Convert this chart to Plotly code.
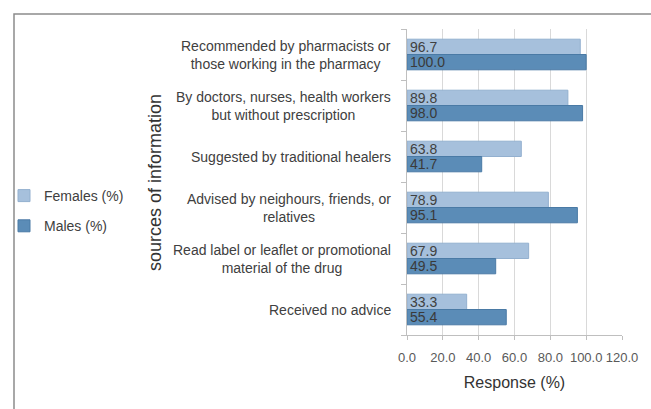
import plotly.graph_objects as go

categories = [
    "Recommended by pharmacists or<br>those working in the pharmacy",
    "By doctors, nurses, health workers<br>but without prescription",
    "Suggested by traditional healers",
    "Advised by neighours, friends, or<br>relatives",
    "Read label or leaflet or promotional<br>material of the drug",
    "Received no advice",
]
females = [96.7, 89.8, 63.8, 78.9, 67.9, 33.3]
males = [100.0, 98.0, 41.7, 95.1, 49.5, 55.4]
x_ticks = [0, 20, 40, 60, 80, 100, 120]
x_ticklabels = ["0.0", "20.0", "40.0", "60.0", "80.0", "100.0", "120.0"]

ypos = list(range(len(categories)))
FONT = "Liberation Sans, Arial"

fig = go.Figure()
fig.add_trace(go.Bar(
    name="Females (%)", y=ypos, x=females, orientation="h",
    marker=dict(color="#a6c0dc", line=dict(color="#93b0cf", width=1)),
    text=[f"{v:.1f}" for v in females], textposition="inside",
    insidetextanchor="start", constraintext="none",
    textfont=dict(family=FONT, size=14, color="#404040"),
    legendgroup="f", cliponaxis=False,
))
fig.add_trace(go.Bar(
    name="Males (%)", y=ypos, x=males, orientation="h",
    marker=dict(color="#5b8cb7", line=dict(color="#4a7aa5", width=1)),
    text=[f"{v:.1f}" for v in males], textposition="inside",
    insidetextanchor="start", constraintext="none",
    textfont=dict(family=FONT, size=14, color="#3a3a3a"),
    legendgroup="m", cliponaxis=False,
))

L, R, T, B = 407, 29, 29, 74
W, H = 651, 409
pw = W - L - R
ph = H - T - B

annotations = [dict(
    text="sources of information", textangle=-90,
    xref="paper", yref="paper", x=(155 - L) / pw, y=(H - B - 183) / ph,
    xanchor="center", yanchor="middle", showarrow=False,
    font=dict(family=FONT, size=18, color="#333333"),
)]
for yi, lab in zip(ypos, categories):
    annotations.append(dict(
        text=lab, xref="paper", yref="y", x=(393 - L) / pw, y=yi,
        xanchor="right", yanchor="middle", align="center", showarrow=False,
        font=dict(family=FONT, size=14, color="#404040"),
    ))

fig.update_layout(
    width=W, height=H,
    margin=dict(l=L, r=R, t=T, b=B, pad=0, autoexpand=False),
    paper_bgcolor="white", plot_bgcolor="white",
    barmode="group", bargap=0.4, bargroupgap=0,
    font=dict(family=FONT, color="#404040"),
    showlegend=True,
    legend=dict(
        x=(4 - L) / pw, y=(H - B - 180) / ph,
        xanchor="left", yanchor="top",
        font=dict(family=FONT, size=14, color="#404040"),
        tracegroupgap=9, traceorder="grouped", itemwidth=30,
        bgcolor="rgba(0,0,0,0)",
    ),
    xaxis=dict(
        range=[0, 120], tickvals=x_ticks, ticktext=x_ticklabels, tickangle=0,
        showgrid=True, gridcolor="#d9d9d9", gridwidth=1,
        showline=True, linecolor="#bfbfbf", linewidth=1,
        ticks="outside", ticklen=4, tickcolor="#bfbfbf",
        tickfont=dict(family=FONT, size=13, color="#595959"),
        ticklabelstandoff=6,
        zeroline=False, automargin=False,
        title=dict(text="Response (%)", font=dict(family=FONT, size=16, color="#333333"), standoff=13),
    ),
    yaxis=dict(
        range=[len(categories) - 0.5, -0.5],
        tickvals=ypos, showticklabels=False,
        ticks="", showgrid=False, zeroline=False, automargin=False,
        showline=True, linecolor="#bfbfbf", linewidth=1,
        minor=dict(tick0=0.5, dtick=1, ticks="outside", ticklen=5, tickcolor="#bfbfbf", showgrid=False),
    ),
    annotations=annotations,
    shapes=[dict(
        type="rect", xref="paper", yref="paper",
        x0=(14 - L) / pw, x1=(700 - L) / pw,
        y0=(H - B - 450) / ph, y1=(H - B - 14) / ph,
        line=dict(color="#8c8c8c", width=1.5), fillcolor="rgba(0,0,0,0)", layer="below",
    )],
)

fig.write_html("out.html")
